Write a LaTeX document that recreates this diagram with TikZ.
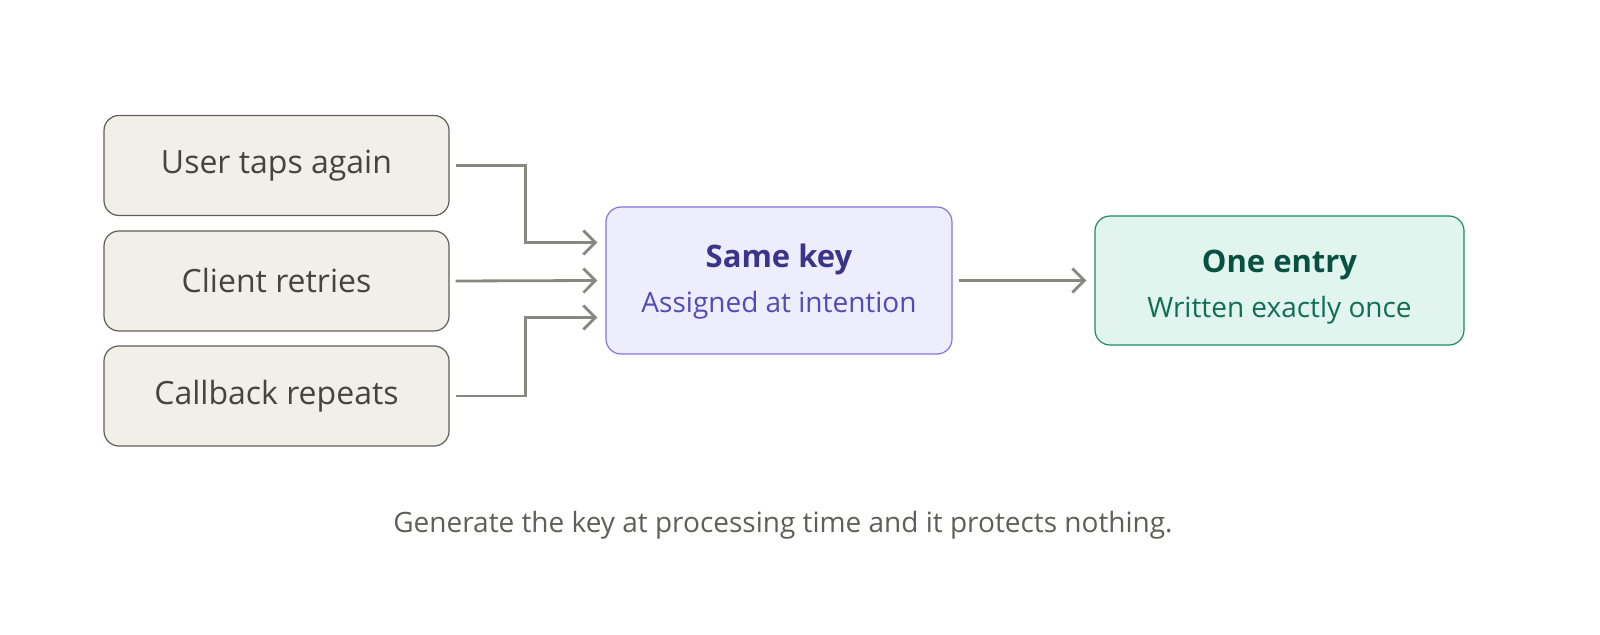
\documentclass[tikz,border=0pt]{standalone}
\usepackage{fontspec}
\setmainfont{Open Sans}
\usetikzlibrary{arrows.meta,positioning}

\definecolor{srcfill}{HTML}{F1EFE8}
\definecolor{srcline}{HTML}{5F5E5A}
\definecolor{srctext}{HTML}{444441}
\definecolor{keyfill}{HTML}{EEEDFE}
\definecolor{keyline}{HTML}{7F77DD}
\definecolor{keytitle}{HTML}{3C3489}
\definecolor{keysub}{HTML}{534AB7}
\definecolor{outfill}{HTML}{E1F5EE}
\definecolor{outline}{HTML}{1D8A68}
\definecolor{outtitle}{HTML}{085041}
\definecolor{outsub}{HTML}{0F6E56}
\definecolor{arrgray}{HTML}{888780}
\definecolor{captext}{HTML}{5F5E5A}

\tikzset{
  srcbox/.style={draw=srcline, fill=srcfill, line width=0.6pt, rounded corners=7.5pt,
    minimum width=172.5pt, minimum height=50pt, text=srctext, font=\fontsize{16}{19}\selectfont},
  keybox/.style={draw=keyline, fill=keyfill, line width=0.6pt, rounded corners=7.5pt,
    minimum width=173pt, minimum height=73.5pt},
  outbox/.style={draw=outline, fill=outfill, line width=0.6pt, rounded corners=7.5pt,
    minimum width=184.5pt, minimum height=64.5pt},
  title/.style={font=\fontsize{15.5}{18}\selectfont\bfseries},
  subtitle/.style={font=\fontsize{14}{16}\selectfont},
  arr/.style={draw=arrgray, line width=1.4pt, -{Straight Barb[length=6pt,width=12pt,line width=1.4pt]}}
}

\begin{document}
\begin{tikzpicture}[x=0.5pt,y=-0.5pt]
        \useasboundingbox (0,0) rectangle (1600,635);
        % Sources
        \node[srcbox] (taps) at (276.5,165.5) {User taps again};
        \node[srcbox] (client) at (276.5,281) {Client retries};
        \node[srcbox] (callback) at (276.5,396) {Callback repeats};
        % Key and result
        \node[keybox] (key) at (779,280.5) {};
        \node[title, text=keytitle] (keyname) at (779,259) {Same key};
        \node[subtitle, text=keysub] (keynote) at (779,305) {Assigned at intention};
        \node[outbox] (entry) at (1279.5,280.5) {};
        \node[title, text=outtitle] (entryname) at (1279.5,265) {One entry};
        \node[subtitle, text=outsub] (entrynote) at (1279.5,310) {Written exactly once};
        % Connectors
        \draw[arr] ([xshift=3pt]taps.east) -- ++(35pt,0) |- ([xshift=-4pt,yshift=19pt]key.west);
        \draw[arr] ([xshift=3pt]client.east) -- ([xshift=-4pt]key.west);
        \draw[arr] ([xshift=3pt]callback.east) -- ++(35pt,0) |- ([xshift=-4pt,yshift=-18.5pt]key.west);
        \draw[arr] ([xshift=3pt]key.east) -- ([xshift=-4pt]entry.west);
        % Caption
        \node[text=captext, font=\fontsize{14}{17}\selectfont] (caption) at (783,525)
          {Generate the key at processing time and it protects nothing.};
\end{tikzpicture}
\end{document}
